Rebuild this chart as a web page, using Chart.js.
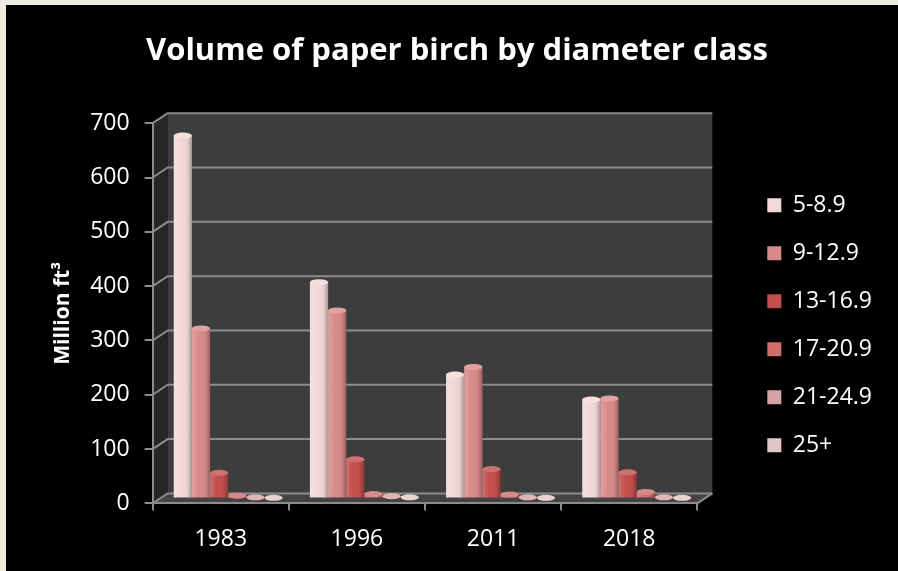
<!DOCTYPE html>
<html>
<head>
<meta charset="utf-8">
<title>Volume of paper birch by diameter class</title>
<script src="https://cdn.jsdelivr.net/npm/chart.js@4.4.0/dist/chart.umd.min.js"></script>
<style>
    html, body { margin: 0; padding: 0; background: #eeece1; }
    #wrap { position: relative; width: 898px; height: 571px; }
</style>
</head>
<body>
<div id="wrap"><canvas id="birchChart" width="898" height="571"></canvas></div>
<script>
var years = ['1983', '1996', '2011', '2018'];
var classNames = ['5-8.9', '9-12.9', '13-16.9', '17-20.9', '21-24.9', '25+'];
var class5to8 = [668, 398, 228, 182];
var class9to12 = [313, 346, 242, 184];
var class13to16 = [47, 72, 54, 48];
var class17to20 = [5, 8, 7, 12];
var class21to24 = [2, 4, 2, 2];
var class25up = [1, 2, 1, 1];
var yTicks = [0, 100, 200, 300, 400, 500, 600, 700];

var classColors = ['#f3d8d8', '#d98b8a', '#c24f4d', '#d06d6b', '#d5a3a2', '#e2c6c6'];
var depthX = 15;
var depthY = -10;
var fontFamily = "'Open Sans', sans-serif";

function fillPoly(ctx, pts) {
    ctx.beginPath();
    ctx.moveTo(pts[0][0], pts[0][1]);
    for (var i = 1; i < pts.length; i++) {
        ctx.lineTo(pts[i][0], pts[i][1]);
    }
    ctx.closePath();
    ctx.fill();
}

// black panel, side wall, back wall, floor and back gridlines
var wallsPlugin = {
    id: 'walls',
    beforeDraw: function (chart) {
        var ctx = chart.ctx;
        var a = chart.chartArea;
        var y = chart.scales.y;
        ctx.save();
        ctx.fillStyle = '#000';
        ctx.fillRect(6, 5, chart.width - 6, chart.height - 5);

        ctx.fillStyle = '#262626';
        fillPoly(ctx, [[a.left, a.top], [a.left + depthX, a.top + depthY], [a.left + depthX, a.bottom + depthY], [a.left, a.bottom]]);
        ctx.fillStyle = '#3d3d3d';
        ctx.fillRect(a.left + depthX, a.top + depthY, a.right - a.left, a.bottom - a.top);
        ctx.fillStyle = '#434343';
        fillPoly(ctx, [[a.left, a.bottom], [a.left + depthX, a.bottom + depthY], [a.right + depthX, a.bottom + depthY], [a.right, a.bottom]]);

        ctx.strokeStyle = '#8c8c8c';
        ctx.lineWidth = 2;
        yTicks.forEach(function (v) {
            var py = y.getPixelForValue(v);
            ctx.beginPath();
            ctx.moveTo(a.left, py);
            ctx.lineTo(a.left + depthX, py + depthY);
            ctx.lineTo(a.right + depthX, py + depthY);
            ctx.stroke();
        });
        ctx.beginPath();
        ctx.moveTo(a.right, a.bottom);
        ctx.lineTo(a.right + depthX, a.bottom + depthY);
        ctx.stroke();
        ctx.restore();
    }
};

// bars sit halfway into the depth, with a cylinder shading
var barsPlugin = {
    id: 'bars3d',
    beforeDatasetsDraw: function (chart) {
        chart.ctx.save();
        chart.ctx.translate(depthX / 2, depthY / 2);
    },
    afterDatasetsDraw: function (chart) {
        var ctx = chart.ctx;
        chart.data.datasets.forEach(function (ds, i) {
            chart.getDatasetMeta(i).data.forEach(function (bar) {
                var p = bar.getProps(['x', 'y', 'base', 'width'], true);
                var l = p.x - p.width / 2;
                var g = ctx.createLinearGradient(l, 0, l + p.width, 0);
                g.addColorStop(0, 'rgba(255,255,255,0.2)');
                g.addColorStop(0.35, 'rgba(255,255,255,0)');
                g.addColorStop(0.75, 'rgba(0,0,0,0.04)');
                g.addColorStop(1, 'rgba(0,0,0,0.3)');
                ctx.fillStyle = g;
                ctx.fillRect(l, p.y, p.width, p.base - p.y);
                ctx.beginPath();
                ctx.ellipse(p.x, p.y, p.width / 2, 3, 0, 0, Math.PI * 2);
                ctx.fillStyle = ds.backgroundColor;
                ctx.fill();
                ctx.fillStyle = 'rgba(255,255,255,0.2)';
                ctx.fill();
            });
        });
        ctx.restore();
    }
};

var seriesValues = [class5to8, class9to12, class13to16, class17to20, class21to24, class25up];

var ctx = document.getElementById('birchChart').getContext('2d');
var chart = new Chart(ctx, {
    type: 'bar',
    data: {
        labels: years,
        datasets: classNames.map(function (name, i) {
            return {
                label: name,
                data: seriesValues[i],
                backgroundColor: classColors[i],
                borderWidth: 0,
                categoryPercentage: 0.8,
                barPercentage: 1.0
            };
        })
    },
    options: {
        responsive: false,
        animation: false,
        layout: {
            padding: { top: 0, left: 32, right: 16, bottom: 3 }
        },
        plugins: {
            title: {
                display: true,
                text: 'Volume of paper birch by diameter class',
                color: '#fff',
                font: { family: fontFamily, size: 31, weight: 'bold' },
                padding: { top: 33, bottom: 53 }
            },
            legend: {
                position: 'right',
                fullSize: false,
                title: {
                    display: true,
                    text: ' ',
                    font: { size: 10 },
                    padding: 6
                },
                labels: {
                    color: '#fff',
                    font: { family: fontFamily, size: 23 },
                    boxWidth: 14,
                    boxHeight: 14,
                    padding: 25
                }
            },
            tooltip: { enabled: false }
        },
        scales: {
            x: {
                grid: {
                    drawOnChartArea: false,
                    color: '#8c8c8c',
                    lineWidth: 2,
                    tickLength: 7
                },
                border: { color: '#8c8c8c', width: 2 },
                ticks: {
                    color: '#fff',
                    font: { family: fontFamily, size: 23 },
                    padding: 15
                }
            },
            y: {
                min: 0,
                max: 700,
                afterBuildTicks: function (scale) {
                    scale.ticks = yTicks.map(function (v) { return { value: v }; });
                },
                grid: {
                    drawOnChartArea: false,
                    color: '#8c8c8c',
                    lineWidth: 2,
                    tickLength: 8
                },
                border: { color: '#8c8c8c', width: 2 },
                ticks: {
                    color: '#fff',
                    font: { family: fontFamily, size: 23 },
                    padding: 15
                },
                title: {
                    display: true,
                    text: 'Million ft³',
                    color: '#fff',
                    font: { family: fontFamily, size: 21, weight: 'bold' },
                    padding: { top: 18, bottom: 0 }
                }
            },
            gap: {
                position: 'right',
                grid: { display: false },
                border: { display: false },
                ticks: { display: false },
                afterFit: function (scale) {
                    scale.width = 45;
                }
            }
        }
    },
    plugins: [wallsPlugin, barsPlugin]
});
</script>
</body>
</html>
